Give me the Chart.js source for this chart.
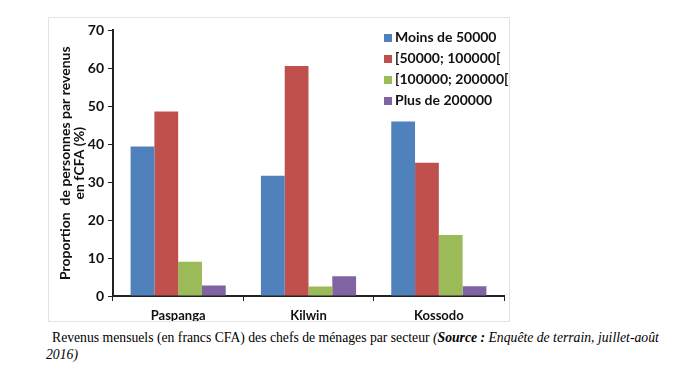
<!DOCTYPE html>
<html>
<head>
<meta charset="utf-8">
<script src="https://cdn.jsdelivr.net/npm/chart.js@4"></script>
<style>
  body { margin: 0; background: #fff; width: 688px; height: 385px; position: relative; overflow: hidden; }
  #frame { position: absolute; left: 48px; top: 17px; width: 460px; height: 303px; border: 1px solid #e3e3e3; }
  #legend { position: absolute; left: 384px; top: 26px; font: bold 14px Lato, sans-serif; color: #111; }
  #legend div { height: 21px; line-height: 21px; white-space: nowrap; }
  #legend span { display: inline-block; width: 8px; height: 8px; margin-right: 3px; vertical-align: 0px; }
  #caption { position: absolute; left: 46px; top: 329px; width: 625px; font: 13.7px "Liberation Serif", serif; color: #000; line-height: 17px; text-indent: 6px; }
</style>
</head>
<body>
<div id="frame"><canvas id="chart" width="460" height="303"></canvas></div>
<div id="legend"></div>
<div id="caption">Revenus mensuels (en francs CFA) des chefs de ménages par secteur <i>(<b>Source :</b> Enquête de terrain, juillet-août 2016)</i></div>
<script>
// données
const secteurs = ['Paspanga', 'Kilwin', 'Kossodo'];
const classes = ['Moins de 50000', '[50000; 100000[', '[100000; 200000[', 'Plus de 200000'];
const moins50000 = [39.4, 31.7, 46.0];
const de50000a100000 = [48.6, 60.6, 35.1];
const de100000a200000 = [9.0, 2.5, 16.1];
const plus200000 = [2.8, 5.2, 2.6];
const couleurs = ['#4F81BD', '#C0504D', '#9BBB59', '#8064A2'];

const series = [moins50000, de50000a100000, de100000a200000, plus200000];

const ctx = document.getElementById('chart').getContext('2d');
const chart = new Chart(ctx, {
  type: 'bar',
  data: {
    labels: secteurs,
    datasets: series.map((d, i) => ({
      label: classes[i],
      data: d,
      backgroundColor: couleurs[i],
      borderWidth: 0,
      categoryPercentage: 0.73,
      barPercentage: 1
    }))
  },
  options: {
    responsive: false,
    animation: false,
    layout: { padding: { top: 12, right: 5, left: 9, bottom: 0 } },
    plugins: { legend: { display: false }, tooltip: { enabled: false } },
    scales: {
      x: {
        grid: { drawOnChartArea: false, drawTicks: true, tickLength: 5, color: '#222', offset: true },
        border: { color: '#222', width: 2 },
        ticks: { color: '#111', font: { family: 'Lato', weight: 'bold', size: 13 }, padding: 7 },
        afterFit: s => { s.height = 25; }
      },
      y: {
        min: 0, max: 70,
        ticks: { stepSize: 10, color: '#111', font: { family: 'Lato', weight: 'bold', size: 14 }, padding: 4 },
        grid: { drawOnChartArea: false, drawTicks: true, tickLength: 5, color: '#222' },
        border: { color: '#222', width: 2 },
        title: {
          display: true,
          text: ['Proportion  de personnes par revenus', 'en fCFA (%)'],
          color: '#111',
          font: { family: 'Lato', weight: 'bold', size: 14, lineHeight: 1 },
          padding: { top: 0, bottom: 0 }
        },
        afterFit: s => { s.width = 55; }
      }
    }
  }
});

// légende à l'intérieur de la zone du graphique
const leg = document.getElementById('legend');
classes.forEach((c, i) => {
  const row = document.createElement('div');
  row.innerHTML = '<span style="background:' + couleurs[i] + '"></span>' + c;
  leg.appendChild(row);
});
</script>
</body>
</html>
